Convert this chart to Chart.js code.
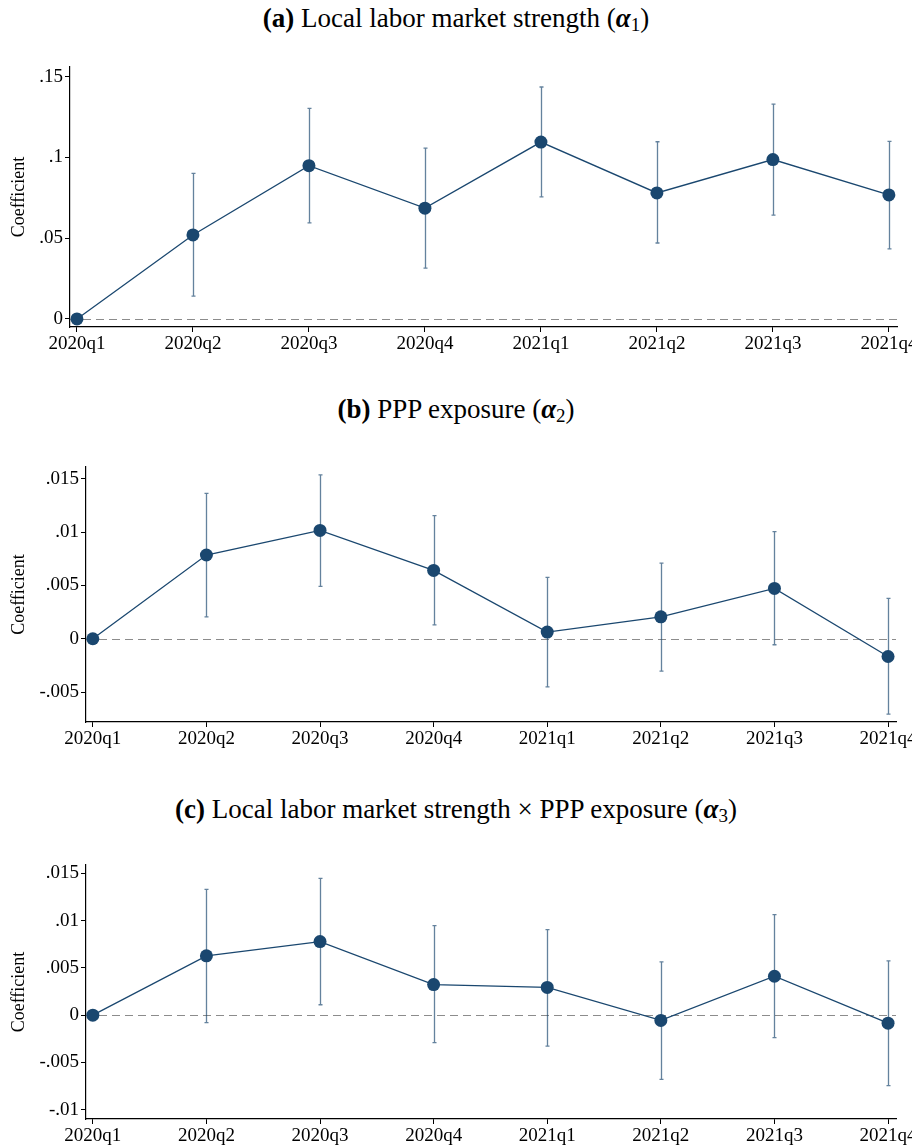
<!DOCTYPE html>
<html>
<head>
<meta charset="utf-8">
<script src="https://cdn.jsdelivr.net/npm/chart.js@4.4.1/dist/chart.umd.min.js"></script>
<style>
  html, body { margin: 0; padding: 0; background: #fff; overflow: hidden; width: 912px; height: 1148px; }
  .panel-title {
    position: absolute; left: 0; width: 912px; text-align: center; white-space: nowrap;
    font-family: 'Liberation Serif', 'Times New Roman', serif; font-size: 27px; color: #000;
  }
  .panel-title sub { font-size: 19px; vertical-align: -4px; line-height: 0; }
  canvas { position: absolute; left: 0; }
</style>
</head>
<body>
<div class="panel-title" style="top:3px"><b>(a)</b> Local labor market strength (<b><i>α</i></b><sub>1</sub>)</div>
<div class="panel-title" style="top:394px"><b>(b)</b> PPP exposure (<b><i>α</i></b><sub>2</sub>)</div>
<div class="panel-title" style="top:794px"><b>(c)</b> Local labor market strength × PPP exposure (<b><i>α</i></b><sub>3</sub>)</div>
<canvas id="chart-a"></canvas>
<canvas id="chart-b"></canvas>
<canvas id="chart-c"></canvas>
<script>
var quarters = ['2020q1', '2020q2', '2020q3', '2020q4', '2021q1', '2021q2', '2021q3', '2021q4'];

// (a) local labor market strength
var coefA = [0, 0.052, 0.0949, 0.0686, 0.1095, 0.078, 0.0987, 0.0768];
var lowA  = [0, 0.0141, 0.0595, 0.0314, 0.0756, 0.047, 0.0643, 0.0434];
var highA = [0, 0.0901, 0.1304, 0.1058, 0.1436, 0.1097, 0.133, 0.110];
var yTicksA = [0, 0.05, 0.1, 0.15];
var yLabelsA = ['0', '.05', '.1', '.15'];

// (b) PPP exposure
var coefB = [0, 0.00785, 0.01016, 0.00641, 0.00063, 0.00206, 0.00472, -0.00166];
var lowB  = [0, 0.00206, 0.00491, 0.00131, -0.0045, -0.00303, -0.00056, -0.00706];
var highB = [0, 0.01363, 0.01536, 0.01154, 0.00575, 0.0071, 0.01004, 0.00378];
var yTicksB = [-0.005, 0, 0.005, 0.01, 0.015];
var yLabelsB = ['-.005', '0', '.005', '.01', '.015'];

// (c) interaction
var coefC = [0, 0.00628, 0.00779, 0.00324, 0.00293, -0.00056, 0.00412, -0.00085];
var lowC  = [0, -0.0008, 0.0011, -0.00292, -0.00328, -0.0068, -0.00239, -0.00746];
var highC = [0, 0.01332, 0.01448, 0.00948, 0.00906, 0.00565, 0.01065, 0.00575];
var yTicksC = [-0.01, -0.005, 0, 0.005, 0.01, 0.015];
var yLabelsC = ['-.01', '-.005', '0', '.005', '.01', '.015'];

var navy = '#1a476f';
var ciColor = 'rgba(26, 71, 111, 0.68)';
var serif = "'Liberation Serif', 'Times New Roman', serif";
var canvasWidth = 940;   // wider than the window so the last x label is cut off at the edge
var padTop = 20;
var xAxisHeight = 45;

// dashed zero line + confidence interval caps, drawn under the points
var ciPlugin = {
    id: 'ciBars',
    beforeDatasetsDraw: function(chart) {
        var ctx = chart.ctx;
        var xs = chart.scales.x, ys = chart.scales.y;
        var area = chart.chartArea;
        var ci = chart.options.plugins.ciBars;

        ctx.save();
        ctx.strokeStyle = '#8c8c8c';
        ctx.lineWidth = 1.2;
        ctx.setLineDash([8, 5]);
        var y0 = Math.round(ys.getPixelForValue(0)) + 0.5;
        ctx.beginPath();
        ctx.moveTo(area.left, y0);
        ctx.lineTo(area.right, y0);
        ctx.stroke();
        ctx.setLineDash([]);

        ctx.strokeStyle = ciColor;
        ctx.lineWidth = 1.3;
        for (var i = 0; i < ci.low.length; i++) {
            if (ci.low[i] === ci.high[i]) continue;
            var x = Math.round(xs.getPixelForValue(i)) + 0.5;
            var yl = ys.getPixelForValue(ci.low[i]);
            var yh = ys.getPixelForValue(ci.high[i]);
            ctx.beginPath();
            ctx.moveTo(x, yl);
            ctx.lineTo(x, yh);
            ctx.moveTo(x - 2, yl);
            ctx.lineTo(x + 2, yl);
            ctx.moveTo(x - 2, yh);
            ctx.lineTo(x + 2, yh);
            ctx.stroke();
        }
        ctx.restore();
    }
};

function MakePanel(id, box, coef, low, high, yMin, yMax, yTicks, yLabels) {
    var canvas = document.getElementById(id);
    canvas.width = canvasWidth;
    canvas.height = padTop + (box.bottom - box.top) + xAxisHeight;
    canvas.style.top = (box.top - padTop) + 'px';

    return new Chart(canvas, {
        type: 'line',
        data: {
            datasets: [{
                data: coef.map(function(v, i) { return { x: i, y: v }; }),
                borderColor: navy,
                borderWidth: 1.3,
                backgroundColor: navy,
                pointBackgroundColor: navy,
                pointBorderColor: navy,
                pointRadius: 6.5,
                pointBorderWidth: 0,
                tension: 0,
                clip: false
            }]
        },
        options: {
            responsive: false,
            animation: false,
            devicePixelRatio: 1,
            layout: { padding: { top: padTop, right: canvasWidth - box.right, left: 0, bottom: 0 } },
            plugins: {
                legend: { display: false },
                tooltip: { enabled: false },
                ciBars: { low: low, high: high }
            },
            scales: {
                x: {
                    type: 'linear',
                    min: -0.06,
                    max: 7.07,
                    afterBuildTicks: function(scale) {
                        scale.ticks = quarters.map(function(q, i) { return { value: i }; });
                    },
                    afterFit: function(scale) { scale.height = xAxisHeight; },
                    ticks: {
                        autoSkip: false,
                        maxRotation: 0,
                        padding: 1,
                        color: '#000',
                        font: { family: serif, size: 19 },
                        callback: function(v) { return quarters[v]; }
                    },
                    grid: { drawOnChartArea: false, drawTicks: true, tickLength: 5, tickColor: '#000', tickWidth: 1 },
                    border: { display: true, color: '#000', width: 1.2 }
                },
                y: {
                    min: yMin,
                    max: yMax,
                    afterBuildTicks: function(scale) {
                        scale.ticks = yTicks.map(function(v) { return { value: v }; });
                    },
                    afterFit: function(scale) { scale.width = box.left; },
                    ticks: {
                        padding: 2,
                        color: '#000',
                        font: { family: serif, size: 19 },
                        callback: function(v) { return yLabels[yTicks.indexOf(v)]; }
                    },
                    grid: { drawOnChartArea: false, drawTicks: true, tickLength: 5, tickColor: '#000', tickWidth: 1 },
                    border: { display: true, color: '#000', width: 1.2 },
                    title: {
                        display: true,
                        text: 'Coefficient',
                        color: '#000',
                        font: { family: serif, size: 18 },
                        padding: { top: 8, bottom: 0 }
                    }
                }
            }
        },
        plugins: [ciPlugin]
    });
}

var chartA = MakePanel('chart-a', { left: 70, top: 67, right: 897, bottom: 327 },
    coefA, lowA, highA, -0.005, 0.156, yTicksA, yLabelsA);
var chartB = MakePanel('chart-b', { left: 86, top: 467, right: 896, bottom: 722 },
    coefB, lowB, highB, -0.0078, 0.0161, yTicksB, yLabelsB);
var chartC = MakePanel('chart-c', { left: 86, top: 865, right: 896, bottom: 1119 },
    coefC, lowC, highC, -0.011, 0.0159, yTicksC, yLabelsC);
</script>
</body>
</html>
